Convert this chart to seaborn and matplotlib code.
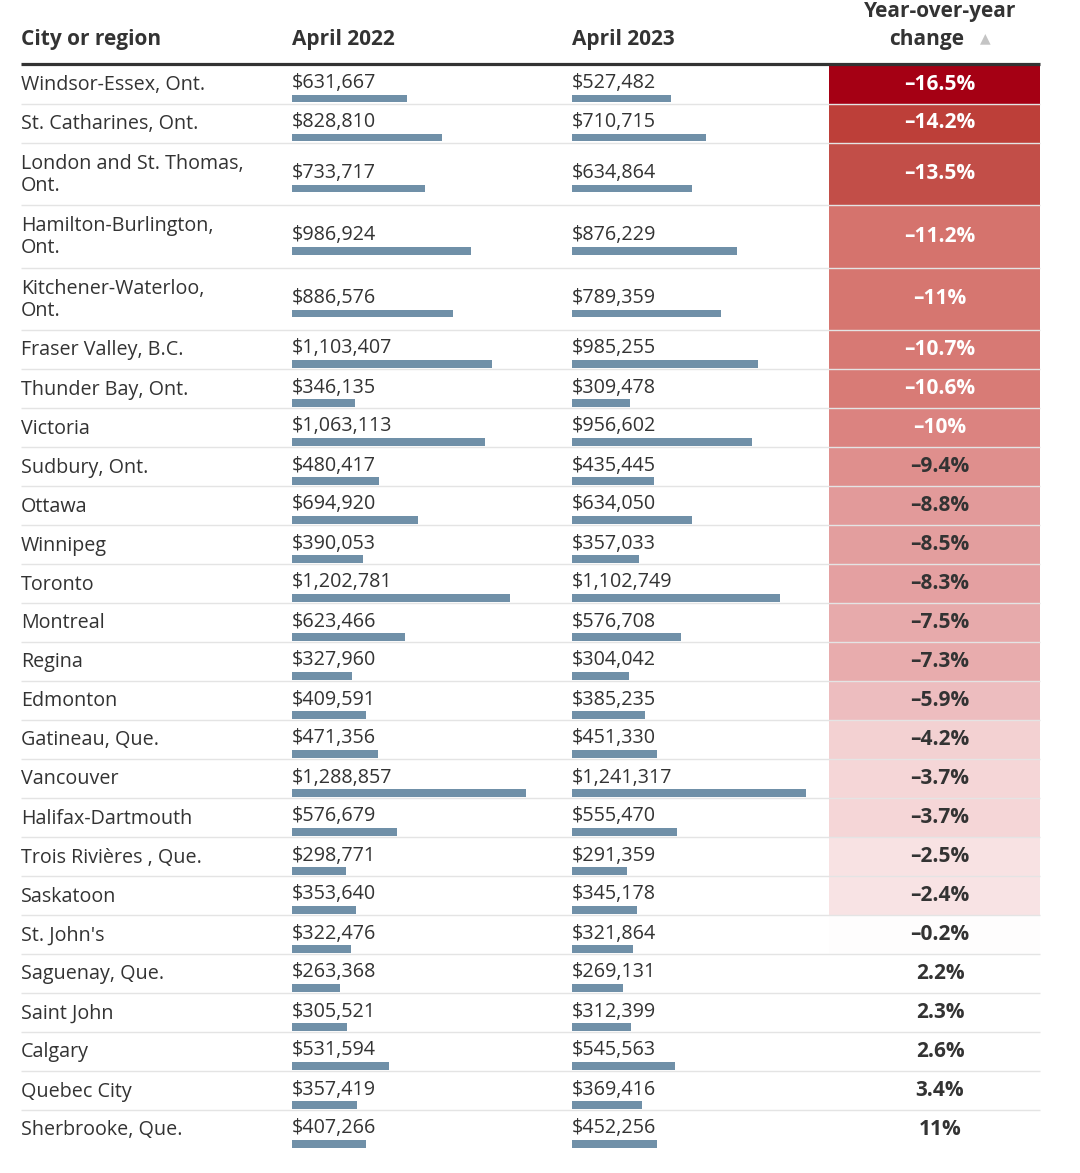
import numpy as np
import matplotlib
matplotlib.use("Agg")
import matplotlib.pyplot as plt
from matplotlib.colors import LinearSegmentedColormap
import seaborn as sns

cities = ["Windsor-Essex, Ont.", "St. Catharines, Ont.", "London and St. Thomas,\nOnt.",
          "Hamilton-Burlington,\nOnt.", "Kitchener-Waterloo,\nOnt.", "Fraser Valley, B.C.",
          "Thunder Bay, Ont.", "Victoria", "Sudbury, Ont.", "Ottawa", "Winnipeg", "Toronto",
          "Montreal", "Regina", "Edmonton", "Gatineau, Que.", "Vancouver", "Halifax-Dartmouth",
          "Trois Rivières , Que.", "Saskatoon", "St. John's", "Saguenay, Que.", "Saint John",
          "Calgary", "Quebec City", "Sherbrooke, Que."]
apr22 = [631667, 828810, 733717, 986924, 886576, 1103407, 346135, 1063113, 480417, 694920,
         390053, 1202781, 623466, 327960, 409591, 471356, 1288857, 576679, 298771, 353640,
         322476, 263368, 305521, 531594, 357419, 407266]
apr23 = [527482, 710715, 634864, 876229, 789359, 985255, 309478, 956602, 435445, 634050,
         357033, 1102749, 576708, 304042, 385235, 451330, 1241317, 555470, 291359, 345178,
         321864, 269131, 312399, 545563, 369416, 452256]
change = [-16.5, -14.2, -13.5, -11.2, -11, -10.7, -10.6, -10, -9.4, -8.8, -8.5, -8.3, -7.5,
          -7.3, -5.9, -4.2, -3.7, -3.7, -2.5, -2.4, -0.2, 2.2, 2.3, 2.6, 3.4, 11]
headers = ["City or region", "April 2022", "April 2023", "Year-over-year", "change"]

sns.set_theme(style="white")
plt.rcParams["font.family"] = ["Open Sans", "DejaVu Sans"]

W, H = 1080, 1173
fig = plt.figure(figsize=(W / 100, H / 100), dpi=100)
ax = fig.add_axes([0, 0, 1, 1])
ax.set_xlim(0, W)
ax.set_ylim(H, 0)
ax.axis("off")

txt = "#333333"
bar_col = "#7090a8"

# red scale for the change column
stops = [(-16.5, "#a50014"), (-14.2, "#bd403a"), (-13.5, "#c24f49"), (-11.2, "#d5736d"),
         (-10, "#db8380"), (-8.8, "#e29a9a"), (-5.9, "#edbdbf"), (-4.2, "#f3d1d2"),
         (-2.5, "#f8e2e3"), (0, "#ffffff")]
cmap = LinearSegmentedColormap.from_list(
    "reds", [((v + 16.5) / 16.5, c) for v, c in stops])

# row layout
heights = np.array([62.5 if "\n" in c else 39 for c in cities])
tops = 64.5 + np.concatenate([[0], np.cumsum(heights)[:-1]])
centers = tops + heights / 2

# header
hy = 39
hfs = 15
ax.text(21, hy, headers[0], fontsize=hfs, fontweight="bold", color=txt, va="center")
ax.text(292, hy, headers[1], fontsize=hfs, fontweight="bold", color=txt, va="center")
ax.text(572, hy, headers[2], fontsize=hfs, fontweight="bold", color=txt, va="center")
ax.text(940, 11, headers[3], fontsize=hfs, fontweight="bold", color=txt, va="center", ha="center")
ax.text(927, hy, headers[4], fontsize=hfs, fontweight="bold", color=txt, va="center", ha="center")
ax.text(985, hy - 1, "\u25b2", fontsize=10, color="#c4c4c4", va="center", ha="center",
        family="DejaVu Sans")

# change cells
neg = [i for i, v in enumerate(change) if v < 0]
ax.barh(centers[neg], 211, left=829, height=heights[neg],
        color=[cmap((change[i] + 16.5) / 16.5) for i in neg], edgecolor="none", zorder=1)

# separators
ax.hlines(tops[1:], 21, 1040, color="#e4e4e4", lw=1, zorder=2)
ax.hlines(63.5, 21, 1040, color="#333333", lw=2.3, zorder=3)

fs = 14.2
for i, name in enumerate(cities):
    c = centers[i]
    ax.text(21, c + 1, name, fontsize=fs, color=txt, va="center", linespacing=1.15)
    ax.text(292, c + 4, f"${apr22[i]:,}", fontsize=fs, color=txt, va="baseline")
    ax.text(572, c + 4, f"${apr23[i]:,}", fontsize=fs, color=txt, va="baseline")
    v = change[i]
    label = ("\u2013" if v < 0 else "") + f"{abs(v):g}%"
    ax.text(940, c, label, fontsize=15, fontweight="bold", ha="center", va="center",
            color="white" if v <= -10 else txt, zorder=4)

# bar columns, each scaled to its own maximum
for x0, vals in [(292, apr22), (572, apr23)]:
    bax = fig.add_axes([x0 / W, 0, 234 / W, 1])
    bax.set_ylim(H, 0)
    bax.set_xlim(0, max(vals))
    bax.axis("off")
    bax.barh(centers + 14.5, vals, height=7.5, color=bar_col, edgecolor="none")

fig.savefig("out.png", dpi=100)
